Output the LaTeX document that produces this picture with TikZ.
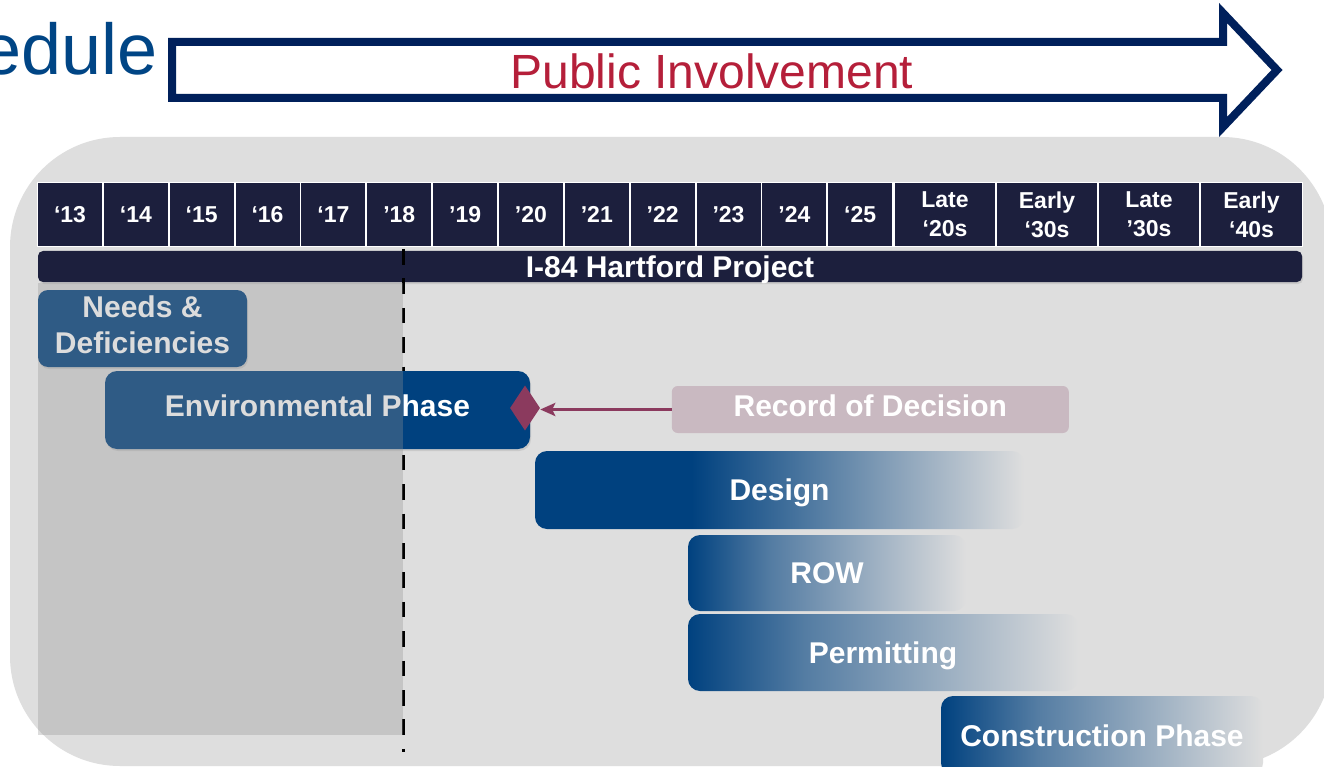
\documentclass[tikz,border=0pt]{standalone}
\usepackage{fontspec}
\setmainfont{Liberation Sans}
\usetikzlibrary{shapes.geometric,arrows.meta,shadows}
\definecolor{bgray}{HTML}{DEDEDE}
\definecolor{navy}{HTML}{1C1F3D}
\definecolor{pblue}{HTML}{00417F}
\definecolor{arrnavy}{HTML}{00205B}
\definecolor{pired}{HTML}{B51F3A}
\definecolor{titleblue}{HTML}{004585}
\definecolor{rodfill}{HTML}{C9B9C1}
\definecolor{rodmag}{HTML}{8B3A5E}
\definecolor{ovl}{RGB}{147,147,147}
\colorlet{pmid}{pblue!62!bgray}
\pgfdeclarehorizontalshading{designfade}{100bp}{color(0bp)=(pblue); color(25bp)=(pblue); color(41bp)=(pblue); color(75bp)=(bgray); color(100bp)=(bgray)}
\pgfdeclarehorizontalshading{quickfade}{100bp}{color(0bp)=(pblue); color(25bp)=(pblue); color(40bp)=(pmid); color(75bp)=(bgray); color(100bp)=(bgray)}
\tikzset{
  hcell/.style={fill=navy, text=white, inner sep=0pt, minimum width=64, minimum height=63,
    align=center, font=\bfseries\fontsize{23}{29}\selectfont},
  lblfont/.style={text=white, inner sep=0pt, font=\bfseries\fontsize{30}{36}\selectfont},
  lbl/.style={lblfont, text height=21.5pt, text depth=0pt},
  softshadow/.style={drop shadow={opacity=0.22, shadow xshift=1pt, shadow yshift=-2pt}},
  fadebox/.style={lbl, shade, shading=#1, rounded corners=12pt},
  dashln/.style={black, line width=3pt, dash pattern=on 15.5pt off 13.9pt}
}
\begin{document}
\begin{tikzpicture}[x=1pt, y=-1pt]
\useasboundingbox (0,0) rectangle (1324,767);
\clip (0,0) rectangle (1324,767);
\fill[white] (0,0) rectangle (1324,767);

% title fragment
\node[anchor=base east, inner sep=0pt, text=titleblue, font=\fontsize{72}{80}\selectfont] (title) at (158,75) {edule};

% public involvement arrow
\draw[arrnavy, line width=8pt, line join=miter] (172,42) -- (1223,42) -- (1223,13) -- (1277,70) -- (1223,127) -- (1223,98) -- (172,98) -- cycle;
\node[anchor=base, inner sep=0pt, text=pired, font=\fontsize{48}{54}\selectfont] (pi) at (712,89) {Public Involvement};

% gray panel
\fill[bgray, rounded corners=110pt] (10,137) rectangle (1332,766);

% header row
\fill[white] (37,182) rectangle (1303,247.5);
\foreach \i/\t in {0/‘13,1/‘14,2/‘15,3/‘16,4/‘17,5/’18,6/’19,7/’20,8/’21,9/’22,10/’23,11/’24,12/‘25}{
  \node[hcell] (c\i) at ({38+65.85*\i+32},214.5) {\t};
}
\node[hcell, minimum width=100] (w1) at (945,214.5) {Late\\‘20s};
\node[hcell, minimum width=100] (w2) at (1047,214.5) {Early\\‘30s};
\node[hcell, minimum width=100] (w3) at (1149,214.5) {Late\\’30s};
\node[hcell, minimum width=101] (w4) at (1251.5,214.5) {Early\\‘40s};

% project bar
\node[lbl, fill=navy, rounded corners=5pt, minimum width=1264, minimum height=31, softshadow] (proj) at (670,266.5) {I-84 Hartford Project};

% today line
\coordinate (dtop) at (403,249);
\coordinate (dbot) at (403,752);
\draw[dashln] (dtop) -- (dbot);

% phases
\node[fill=pblue, rounded corners=10pt, minimum width=209, minimum height=77, inner sep=0pt, softshadow] (nd) at (142.5,328.5) {};
\node[lblfont, align=center] (ndt) at (142.5,324.5) {Needs \&\\Deficiencies};
\node[lbl, fill=pblue, rounded corners=12pt, minimum width=425, minimum height=78, text depth=8pt, softshadow] (env) at (317.5,410) {Environmental Phase};
\node[diamond, fill=rodmag, minimum width=30, minimum height=45, inner sep=0pt] (rd) at (525,408) {};
\node[lbl, fill=rodfill, rounded corners=6pt, minimum width=397, minimum height=47, text depth=7pt] (rod) at (870.3,409.5) {Record of Decision};
\draw[rodmag, line width=3pt, -{Stealth[length=15pt, width=13pt, inset=3pt]}] (rod.west) -- (rod.west -| rd.east);

\node[fadebox=designfade, minimum width=489, minimum height=78] (design) at (779.5,490) {Design};
\node[fadebox=quickfade, minimum width=278, minimum height=76] (row) at (827,573) {ROW};
\node[fadebox=quickfade, minimum width=390, minimum height=77] (permit) at (883,652.5) {Permitting};
\node[fadebox=quickfade, minimum width=322, minimum height=79] (constr) at (1102,735.5) {Construction Phase};

% past overlay
\fill[ovl, opacity=0.32] (38,283) rectangle (403,735);
\end{tikzpicture}
\end{document}
